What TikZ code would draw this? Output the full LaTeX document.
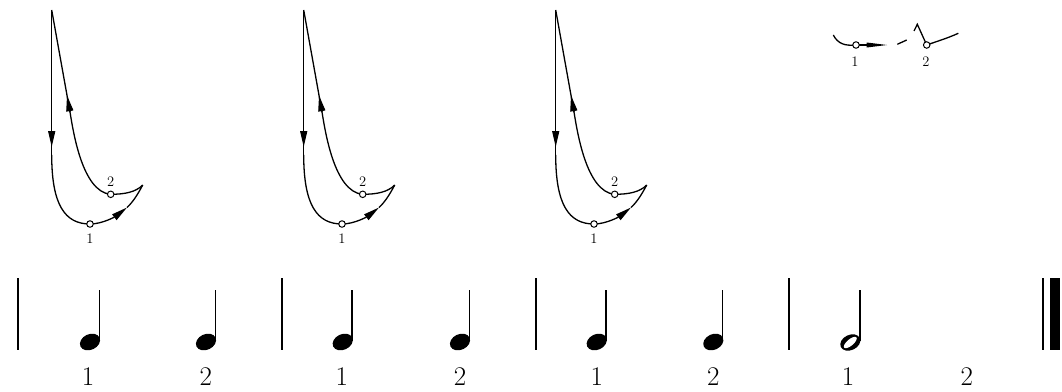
\documentclass[tikz,border=0pt]{standalone}
\usetikzlibrary{arrows.meta}
\begin{document}
\begin{tikzpicture}[x=1pt,y=-1pt,
  line width=1.3pt,
  arr/.style={-{Triangle[length=16pt,width=7pt]}},
  dot/.style={circle,draw,fill=white,inner sep=0pt,minimum size=6.5pt,line width=1pt},
  small/.style={font=\fontsize{14.5}{16}\selectfont,inner sep=0pt,anchor=base},
  big/.style={font=\fontsize{27}{30}\selectfont,inner sep=0pt,anchor=base},
  bar/.style={line width=1.8pt},
  stem/.style={line width=1.5pt}]
\useasboundingbox (0,0) rectangle (1062,391);

% conducting patterns
\foreach \o/\n in {0/a,252/b,504/c}{
 \begin{scope}[xshift=\o pt]
  \coordinate (top\n) at (51.7,10);
  \coordinate (v\n) at (51.7,155);
  \coordinate (va\n) at (51.7,147);
  \coordinate (one\n) at (90,224);
  \coordinate (am\n) at (127,207.5);
  \coordinate (tip\n) at (142.7,185);
  \coordinate (two\n) at (110.7,194.3);
  \coordinate (up\n) at (70,112);
  \coordinate (um\n) at (67,95.3);
  \draw (top\n) -- (v\n);
  \draw[arr] (top\n) -- (va\n);
  \draw (v\n) .. controls (51.7,205) and (65,224) .. (one\n);
  \draw[arr] (one\n) .. controls (103,224) and (116,216) .. (am\n);
  \draw (am\n) .. controls (133,202) and (138,194) .. (tip\n);
  \draw (tip\n) .. controls (136,192) and (125,194.3) .. (two\n);
  \draw (two\n) .. controls (82,192) and (73,130) .. (up\n);
  \draw (up\n) -- (top\n);
  \draw[arr] (up\n) -- (um\n);
  \node[dot] (d1\n) at (one\n) {};
  \node[dot] (d2\n) at (two\n) {};
  \node[small] (l1\n) at (90,243) {1};
  \node[small] (l2\n) at (110.7,186) {2};
 \end{scope}}

% small pattern
\coordinate (s0) at (833.3,35);
\coordinate (s1) at (856,45);
\coordinate (sw) at (866.7,45);
\coordinate (st) at (887,45);
\coordinate (s2) at (926.7,45);
\coordinate (se) at (958.3,33.3);
\draw (s0) .. controls (838,44) and (845,46) .. (s1);
\draw (s1) -- (sw);
\fill (866.7,42.5) -- (st) -- (866.7,47.5) -- cycle;
\draw (897.3,44.3) -- (906.7,40);
\draw (914,31) -- (917.3,24.3) -- (s2);
\draw (s2) .. controls (938,41) and (948,38) .. (se);
\node[dot] (sd1) at (s1) {};
\node[dot] (sd2) at (s2) {};
\node[small] (sl1) at (855,66) {1};
\node[small] (sl2) at (926,66) {2};

% bar lines
\foreach \bx in {18.3,282.3,536,789,1042.7}{
  \draw[bar] (\bx,278) -- (\bx,350);
}
\fill (1050,278) rectangle (1060,350);

% quarter notes
\foreach \hx in {90,206,342.7,460,596.7,713.3}{
  \fill[rotate around={25:(\hx,342)}] (\hx,342) ellipse [x radius=10.5pt, y radius=7.8pt];
  \draw[stem] (\hx+9.4,341) -- (\hx+9.4,290);
}
% half note
\fill[rotate around={25:(850.3,342.5)}] (850.3,342.5) ellipse [x radius=10.5pt, y radius=7.6pt];
\fill[white,rotate around={40:(850.3,342.5)}] (850.3,342.5) ellipse [x radius=8pt, y radius=3.2pt];
\draw[stem] (859.8,341) -- (859.8,290);

% counts
\node[big] (b1) at (88,385) {1};
\node[big] (b2) at (205.7,385) {2};
\node[big] (b3) at (341.7,385) {1};
\node[big] (b4) at (460,385) {2};
\node[big] (b5) at (596.7,385) {1};
\node[big] (b6) at (713.3,385) {2};
\node[big] (b7) at (848,385) {1};
\node[big] (b8) at (966.7,385) {2};
\end{tikzpicture}
\end{document}
